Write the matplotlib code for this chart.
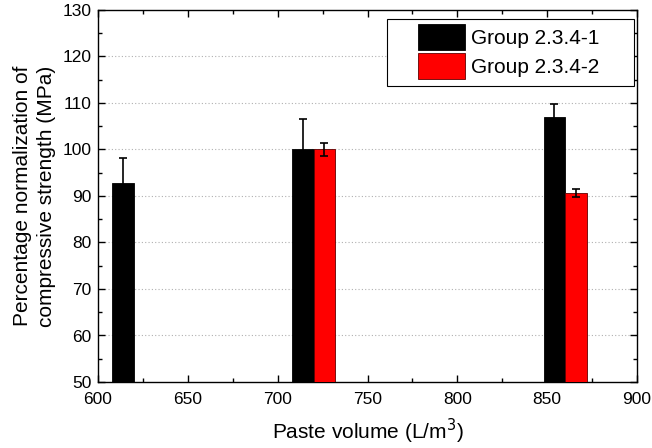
import matplotlib
matplotlib.use("Agg")
import matplotlib.pyplot as plt
from matplotlib.patches import Rectangle
import numpy as np

plt.rcParams['font.family'] = ['Liberation Sans', 'DejaVu Sans']

paste_g1 = [620, 720, 860]
vals_g1 = [92.7, 100.0, 107.0]
err_g1 = [5.4, 6.6, 2.8]

paste_g2 = [720, 860]
vals_g2 = [100.0, 90.7]
err_g2 = [1.3, 0.9]

labels = ["Group 2.3.4-1", "Group 2.3.4-2"]

fig = plt.figure(figsize=(6.52, 4.48), dpi=100)
ax = fig.add_axes([98/652, 1-382/448, (637-98)/652, (382-10)/448])

w = 12
ax.bar(paste_g1, vals_g1, width=-w, align='edge', color='black', edgecolor='black',
       linewidth=0.6, label=labels[0], zorder=3)
ax.bar(paste_g2, vals_g2, width=w, align='edge', color='#ff0000', edgecolor='#600000',
       linewidth=0.6, label=labels[1], zorder=3)
ax.errorbar(np.array(paste_g1) - w/2, vals_g1, yerr=err_g1, fmt='none', ecolor='black',
            elinewidth=1.2, capsize=3.2, capthick=1.2, zorder=4)
ax.errorbar(np.array(paste_g2) + w/2, vals_g2, yerr=err_g2, fmt='none', ecolor='black',
            elinewidth=1.2, capsize=3.2, capthick=1.2, zorder=4)

ax.set_xlim(600, 900)
ax.set_ylim(50, 130)
ax.set_xticks(np.arange(600, 901, 50))
ax.set_xticks(np.arange(625, 900, 50), minor=True)
ax.set_yticks(np.arange(50, 131, 10))
ax.set_yticks(np.arange(55, 130, 10), minor=True)

for y in range(60, 130, 10):
    ax.axhline(y, color='#b0b0b0', linestyle=(0, (1, 2)), linewidth=0.8, zorder=1)

ax.tick_params(which='both', direction='in', top=True, right=True, labelsize=12.5, width=1)
ax.tick_params(which='major', length=5)
ax.tick_params(which='minor', length=3)
ax.tick_params(axis='x', which='major', pad=7)
ax.tick_params(axis='y', which='major', pad=4.5)
for s in ax.spines.values():
    s.set_linewidth(1.0)

ax.set_xlabel("Paste volume (L/m$^3$)", fontsize=15, labelpad=7)
ax.set_ylabel("Percentage normalization of\ncompressive strength (MPa)", fontsize=15,
              labelpad=5, linespacing=1.3)

# legend frame
ax.add_patch(Rectangle((0.536, 0.796), 0.994 - 0.536, 0.976 - 0.796, transform=ax.transAxes,
                       facecolor='white', edgecolor='black', linewidth=0.8, zorder=5))
leg = ax.legend(loc='upper left', bbox_to_anchor=(0.594, 0.962), fontsize=15, frameon=False,
                handlelength=2.26, handleheight=1.55, borderaxespad=0, borderpad=0,
                labelspacing=0.12, handletextpad=0.3)
leg.set_zorder(6)

fig.savefig("out.png", dpi=100)
